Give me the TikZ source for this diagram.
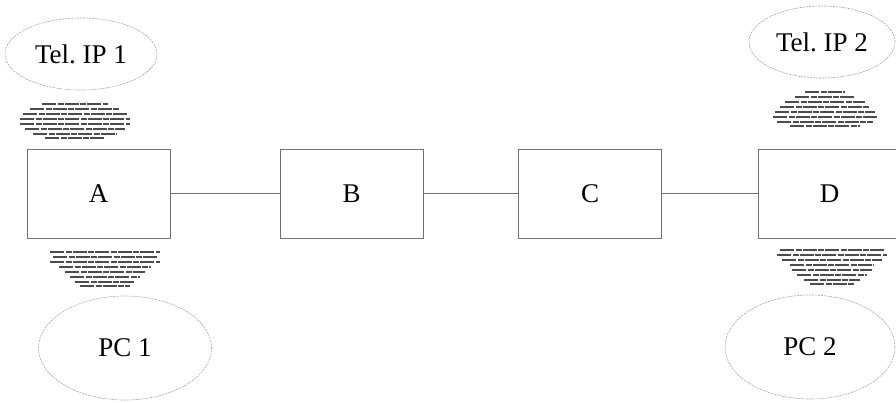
\documentclass[tikz,border=0pt]{standalone}
\usepackage{fontspec}
\setmainfont{Liberation Serif}
\usetikzlibrary{shapes.geometric}
\begin{document}
\begin{tikzpicture}[x=1pt,y=-1pt,
  every node/.style={font=\fontsize{27}{30}\selectfont},
  devbox/.style={draw=black!55,line width=0.8pt,minimum width=143pt,minimum height=89pt,inner sep=0pt},
  endpoint/.style={draw=black!35,line width=0.6pt,dash pattern=on 2pt off 1pt,ellipse,inner sep=0pt},
  link/.style={draw=black!55,line width=0.9pt},
  wave/.style={draw=black!70,line width=1.3pt,dash pattern=on 14pt off 1.5pt on 6pt off 1pt}]
\useasboundingbox (0,0) rectangle (896,402);
% boxes
\node[devbox] (A) at (98.5,193.5) {A};
\node[devbox] (B) at (351.5,193.5) {B};
\node[devbox] (C) at (590,193.5) {C};
\node[devbox] (D) at (829.5,193.5) {D};
% links
\draw[link] (A) -- (B);
\draw[link] (B) -- (C);
\draw[link] (C) -- (D);
% endpoints
\node[endpoint,minimum width=152pt,minimum height=72pt] (T1) at (81,54) {Tel.\ IP 1};
\node[endpoint,minimum width=146pt,minimum height=72pt] (T2) at (822,42) {Tel.\ IP 2};
\node[endpoint,minimum width=173pt,minimum height=104pt] (P1) at (125,348) {PC 1};
\node[endpoint,minimum width=170pt,minimum height=104pt] (P2) at (810,347) {PC 2};
% wireless symbols
\foreach \y/\h in {104/33,109/45,114/52,119/55,124/55,129/50,134/42,138/30}
  \draw[wave] (75-\h,\y) -- (75+\h,\y);
\foreach \y/\h in {252/55,257/52,262/55,267/46,272/40,277/35,282/30,286/25}
  \draw[wave] (105-\h,\y) -- (105+\h,\y);
\foreach \y/\h in {92/20,97/30,102/40,107/45,112/50,117/52,122/48,126/35}
  \draw[wave] (825-\h,\y) -- (825+\h,\y);
\foreach \y/\h in {250/52,255/55,260/50,265/42,270/40,275/35,280/28,284/22}
  \draw[wave] (832-\h,\y) -- (832+\h,\y);
\end{tikzpicture}
\end{document}
